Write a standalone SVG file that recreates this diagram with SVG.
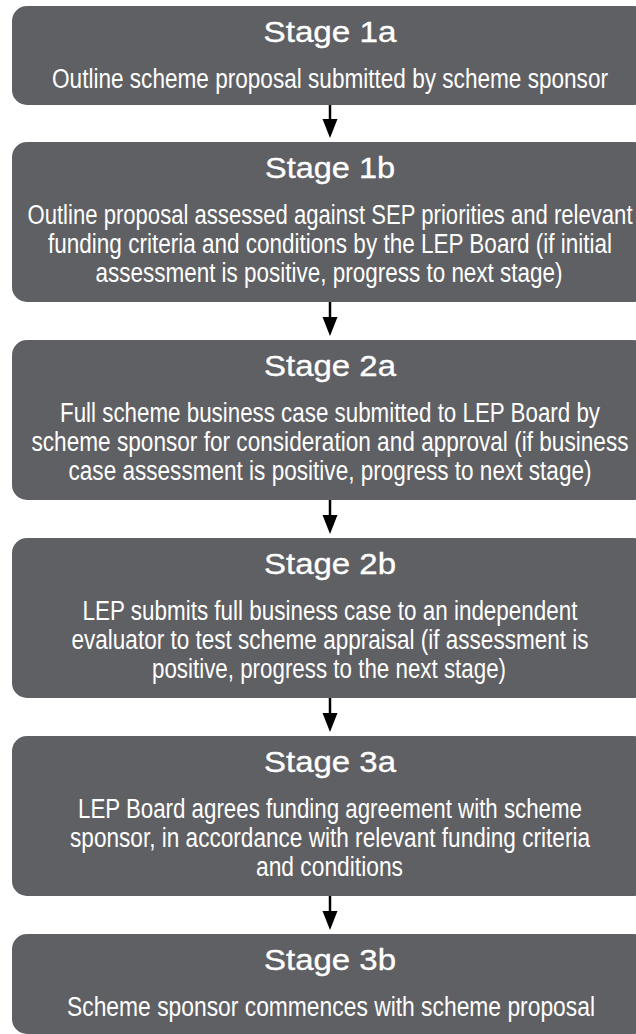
<svg xmlns="http://www.w3.org/2000/svg" width="636" height="1034" viewBox="0 0 636 1034">
<style>
.box{fill:#5f6064}
.t{font-family:"Liberation Sans",Arial,sans-serif;fill:#ffffff;text-anchor:middle}
.ti{font-size:30px;stroke:#ffffff;stroke-width:0.35}
.b{font-size:27px}
.c{stroke:#000000;stroke-width:2.5;fill:none}
.h{fill:#000000}
</style>
<g id="connectors">
<line class="c" x1="330" y1="105" x2="330" y2="122"/><polygon class="h" points="322.5,119 337.5,119 330,138"/>
<line class="c" x1="330" y1="302" x2="330" y2="320"/><polygon class="h" points="322.5,317 337.5,317 330,336"/>
<line class="c" x1="330" y1="500" x2="330" y2="518"/><polygon class="h" points="322.5,515 337.5,515 330,534"/>
<line class="c" x1="330" y1="698" x2="330" y2="716"/><polygon class="h" points="322.5,713 337.5,713 330,732"/>
<line class="c" x1="330" y1="896" x2="330" y2="914"/><polygon class="h" points="322.5,911 337.5,911 330,930"/>
</g>
<g id="stage1a">
<rect class="box" x="12" y="6" width="636" height="99" rx="15"/>
<text class="t ti" x="330" y="42" textLength="133" lengthAdjust="spacingAndGlyphs">Stage 1a</text>
<g transform="translate(330 0) scale(0.75 1)">
<text class="t b" x="0" y="88" textLength="741.3" lengthAdjust="spacingAndGlyphs">Outline scheme proposal submitted by scheme sponsor</text>
</g>
</g>
<g id="stage1b">
<rect class="box" x="12" y="142" width="636" height="160" rx="15"/>
<text class="t ti" x="330" y="178" textLength="130" lengthAdjust="spacingAndGlyphs">Stage 1b</text>
<g transform="translate(330 0) scale(0.75 1)">
<text class="t b" x="0" y="224" textLength="806.7" lengthAdjust="spacingAndGlyphs">Outline proposal assessed against SEP priorities and relevant</text>
<text class="t b" x="0" y="253" textLength="752" lengthAdjust="spacingAndGlyphs">funding criteria and conditions by the LEP Board (if initial</text>
<text class="t b" x="-1.33" y="282" textLength="622.7" lengthAdjust="spacingAndGlyphs">assessment is positive, progress to next stage)</text>
</g>
</g>
<g id="stage2a">
<rect class="box" x="12" y="340" width="636" height="160" rx="15"/>
<text class="t ti" x="330" y="376" textLength="132" lengthAdjust="spacingAndGlyphs">Stage 2a</text>
<g transform="translate(330 0) scale(0.75 1)">
<text class="t b" x="0" y="422" textLength="720" lengthAdjust="spacingAndGlyphs">Full scheme business case submitted to LEP Board by</text>
<text class="t b" x="0" y="451" textLength="796" lengthAdjust="spacingAndGlyphs">scheme sponsor for consideration and approval (if business</text>
<text class="t b" x="0" y="480" textLength="697.3" lengthAdjust="spacingAndGlyphs">case assessment is positive, progress to next stage)</text>
</g>
</g>
<g id="stage2b">
<rect class="box" x="12" y="538" width="636" height="160" rx="15"/>
<text class="t ti" x="330" y="574" textLength="132" lengthAdjust="spacingAndGlyphs">Stage 2b</text>
<g transform="translate(330 0) scale(0.75 1)">
<text class="t b" x="0" y="620" textLength="660" lengthAdjust="spacingAndGlyphs">LEP submits full business case to an independent</text>
<text class="t b" x="0" y="649" textLength="689.3" lengthAdjust="spacingAndGlyphs">evaluator to test scheme appraisal (if assessment is</text>
<text class="t b" x="-1.33" y="678" textLength="472" lengthAdjust="spacingAndGlyphs">positive, progress to the next stage)</text>
</g>
</g>
<g id="stage3a">
<rect class="box" x="12" y="736" width="636" height="160" rx="15"/>
<text class="t ti" x="330" y="772" textLength="132" lengthAdjust="spacingAndGlyphs">Stage 3a</text>
<g transform="translate(330 0) scale(0.75 1)">
<text class="t b" x="0" y="818" textLength="672" lengthAdjust="spacingAndGlyphs">LEP Board agrees funding agreement with scheme</text>
<text class="t b" x="0" y="847" textLength="693.3" lengthAdjust="spacingAndGlyphs">sponsor, in accordance with relevant funding criteria</text>
<text class="t b" x="-0.67" y="876" textLength="196" lengthAdjust="spacingAndGlyphs">and conditions</text>
</g>
</g>
<g id="stage3b">
<rect class="box" x="12" y="934" width="636" height="100" rx="15"/>
<text class="t ti" x="330" y="970" textLength="132" lengthAdjust="spacingAndGlyphs">Stage 3b</text>
<g transform="translate(330 0) scale(0.75 1)">
<text class="t b" x="1.33" y="1016" textLength="704" lengthAdjust="spacingAndGlyphs">Scheme sponsor commences with scheme proposal</text>
</g>
</g>
</svg>
